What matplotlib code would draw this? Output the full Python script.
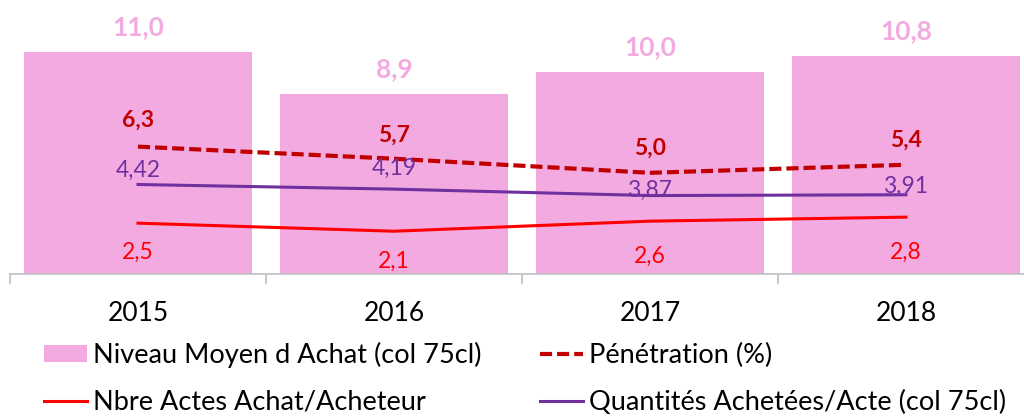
import matplotlib.pyplot as plt
import numpy as np

years = ["2015", "2016", "2017", "2018"]
niveau_moyen = [11.0, 8.9, 10.0, 10.8]
penetration = [6.3, 5.7, 5.0, 5.4]
quantites_acte = [4.42, 4.19, 3.87, 3.91]
actes_acheteur = [2.5, 2.1, 2.6, 2.8]

PINK = "#F3AAE1"
DARK_RED = "#C00000"
PURPLE = "#7030A0"
RED = "#FF0000"
AXIS_GREY = "#BFBFBF"

plt.rcParams["font.family"] = ["Lato", "DejaVu Sans"]


def fmt(value, decimals):
    return f"{value:.{decimals}f}".replace(".", ",")


def label_points(ax, x, values, decimals, offsets, **kwargs):
    for xi, v, dy in zip(x, values, offsets):
        ax.annotate(
            fmt(v, decimals),
            (xi, v),
            xytext=(0, dy),
            textcoords="offset points",
            ha="center",
            va="center",
            annotation_clip=False,
            **kwargs,
        )


fig = plt.figure(figsize=(10.24, 4.16), dpi=100)
ax = fig.add_axes([10 / 1024, 0.3425, 1.0, 0.6575])

x = np.arange(len(years))

bars = ax.bar(x, niveau_moyen, width=0.887, color=PINK, zorder=1,
              label="Niveau Moyen d Achat (col 75cl)")
pen_line, = ax.plot(x, penetration, color=DARK_RED, lw=3,
                    dashes=(2.9, 1.2), zorder=3, label="Pénétration (%)")
qty_line, = ax.plot(x, quantites_acte, color=PURPLE, lw=2.2, zorder=3,
                    label="Quantités Achetées/Acte (col 75cl)")
act_line, = ax.plot(x, actes_acheteur, color=RED, lw=2.2, zorder=3,
                    label="Nbre Actes Achat/Acheteur")

# data labels
label_points(ax, x, niveau_moyen, 1, [18, 18, 18, 18],
             color=PINK, fontsize=19, fontweight="bold")
label_points(ax, x, penetration, 1, [19, 17, 18, 18],
             color=DARK_RED, fontsize=16.5, fontweight="bold")
label_points(ax, x, quantites_acte, 2, [10, 15, 4, 6],
             color=PURPLE, fontsize=16.5)
label_points(ax, x, actes_acheteur, 1, [-21, -22, -25, -25],
             color=RED, fontsize=16.5)

ax.set_xlim(-0.5, 3.5)
ax.set_ylim(0, 13.58)

for side in ["top", "right", "left"]:
    ax.spines[side].set_visible(False)
ax.spines["bottom"].set_color(AXIS_GREY)
ax.spines["bottom"].set_linewidth(1.2)
ax.set_yticks([])

ax.set_xticks(x)
ax.set_xticklabels(years, fontsize=19)
ax.tick_params(axis="x", which="major", length=0, pad=20)
ax.set_xticks(np.arange(-0.5, 4.0, 1.0), minor=True)
ax.tick_params(axis="x", which="minor", length=7, width=1.2,
               color=AXIS_GREY, direction="out")

fig.legend(
    [bars, act_line, pen_line, qty_line],
    [bars.get_label(), act_line.get_label(), pen_line.get_label(),
     qty_line.get_label()],
    loc="upper left",
    bbox_to_anchor=(44 / 1024, 1 - 342 / 416),
    ncol=2,
    frameon=False,
    fontsize=19.5,
    handlelength=1.6,
    handleheight=0.6,
    handletextpad=0.22,
    columnspacing=2.15,
    labelspacing=0.8,
    borderaxespad=0,
    borderpad=0,
)

fig.savefig("out.png", dpi=100)
plt.close(fig)
